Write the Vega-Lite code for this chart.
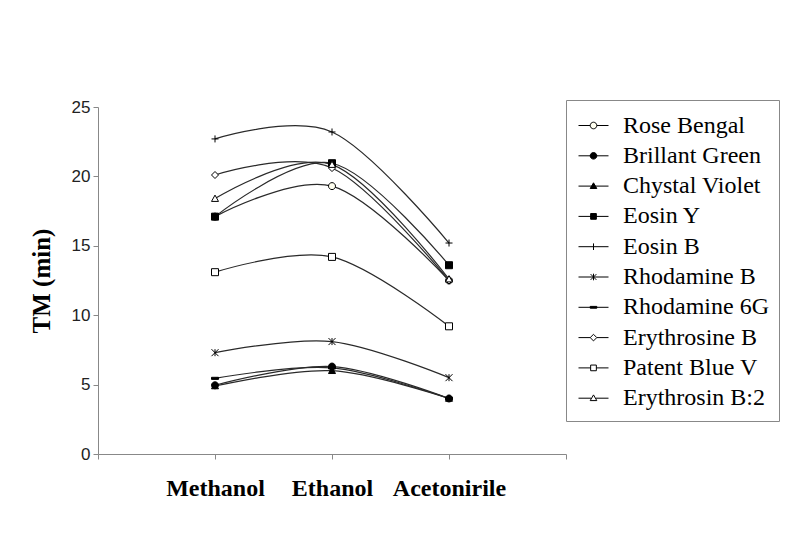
{
  "$schema": "https://vega.github.io/schema/vega-lite/v6.json",
  "width": 468,
  "height": 347,
  "autosize": {"type": "none"},
  "padding": {"left": 98, "top": 107, "right": 230, "bottom": 92},
  "background": "white",
  "config": {"view": {"stroke": null}, "font": "Liberation Serif"},
  "data": {
    "values": [
      {"name": "Rose Bengal", "solvent": "Methanol", "tm": 17.1},
      {"name": "Rose Bengal", "solvent": "Ethanol", "tm": 19.3},
      {"name": "Rose Bengal", "solvent": "Acetonirile", "tm": 12.5},
      {"name": "Brillant Green", "solvent": "Methanol", "tm": 4.95},
      {"name": "Brillant Green", "solvent": "Ethanol", "tm": 6.3},
      {"name": "Brillant Green", "solvent": "Acetonirile", "tm": 4.0},
      {"name": "Chystal Violet", "solvent": "Methanol", "tm": 4.9},
      {"name": "Chystal Violet", "solvent": "Ethanol", "tm": 6.0},
      {"name": "Chystal Violet", "solvent": "Acetonirile", "tm": 4.0},
      {"name": "Eosin Y", "solvent": "Methanol", "tm": 17.1},
      {"name": "Eosin Y", "solvent": "Ethanol", "tm": 20.95},
      {"name": "Eosin Y", "solvent": "Acetonirile", "tm": 13.6},
      {"name": "Eosin B", "solvent": "Methanol", "tm": 22.7},
      {"name": "Eosin B", "solvent": "Ethanol", "tm": 23.2},
      {"name": "Eosin B", "solvent": "Acetonirile", "tm": 15.2},
      {"name": "Rhodamine B", "solvent": "Methanol", "tm": 7.3},
      {"name": "Rhodamine B", "solvent": "Ethanol", "tm": 8.1},
      {"name": "Rhodamine B", "solvent": "Acetonirile", "tm": 5.5},
      {"name": "Rhodamine 6G", "solvent": "Methanol", "tm": 5.45},
      {"name": "Rhodamine 6G", "solvent": "Ethanol", "tm": 6.2},
      {"name": "Rhodamine 6G", "solvent": "Acetonirile", "tm": 4.0},
      {"name": "Erythrosine B", "solvent": "Methanol", "tm": 20.1},
      {"name": "Erythrosine B", "solvent": "Ethanol", "tm": 20.6},
      {"name": "Erythrosine B", "solvent": "Acetonirile", "tm": 12.5},
      {"name": "Patent Blue V", "solvent": "Methanol", "tm": 13.1},
      {"name": "Patent Blue V", "solvent": "Ethanol", "tm": 14.2},
      {"name": "Patent Blue V", "solvent": "Acetonirile", "tm": 9.2},
      {"name": "Erythrosin B:2", "solvent": "Methanol", "tm": 18.4},
      {"name": "Erythrosin B:2", "solvent": "Ethanol", "tm": 20.85},
      {"name": "Erythrosin B:2", "solvent": "Acetonirile", "tm": 12.6}
    ]
  },
  "encoding": {
    "x": {
      "field": "solvent",
      "type": "ordinal",
      "scale": {"type": "point", "domain": ["start", "Methanol", "Ethanol", "Acetonirile", "end"], "padding": 0},
      "axis": {
        "title": null,
        "labelExpr": "datum.value == 'start' || datum.value == 'end' ? '' : datum.label",
        "labelFont": "Liberation Serif",
        "labelFontSize": 24,
        "labelFontWeight": "bold",
        "labelColor": "black",
        "labelAngle": 0,
        "labelPadding": 17,
        "labelOverlap": false,
        "tickSize": 5,
        "tickColor": "#888",
        "domainColor": "#888",
        "grid": false
      }
    },
    "y": {
      "field": "tm",
      "type": "quantitative",
      "scale": {"domain": [0, 25], "nice": false},
      "axis": {
        "title": "TM (min)",
        "titleFont": "Liberation Serif",
        "titleFontSize": 25,
        "titleFontWeight": "bold",
        "titleColor": "black",
        "titlePadding": 17,
        "values": [0, 5, 10, 15, 20, 25],
        "labelFont": "Liberation Sans",
        "labelFontSize": 17,
        "labelColor": "#222",
        "labelPadding": 3,
        "tickSize": 5,
        "tickColor": "#888",
        "domainColor": "#888",
        "grid": false
      }
    }
  },
  "layer": [
    {
      "mark": {"type": "line", "interpolate": "cardinal", "color": "#2a2a2a", "strokeWidth": 1.2},
      "encoding": {"detail": {"field": "name"}}
    },
    {
      "mark": {"type": "point", "stroke": "black", "strokeWidth": 1, "size": 49, "opacity": 1},
      "encoding": {
        "shape": {
          "field": "name",
          "type": "nominal",
          "scale": {
            "domain": ["Rose Bengal", "Brillant Green", "Chystal Violet", "Eosin Y", "Eosin B", "Rhodamine B", "Rhodamine 6G", "Erythrosine B", "Patent Blue V", "Erythrosin B:2"],
            "range": [
              "M1,0A1,1,0,1,1,-1,0A1,1,0,1,1,1,0Z",
              "M1,0A1,1,0,1,1,-1,0A1,1,0,1,1,1,0Z",
              "M0,-1L1,0.8L-1,0.8Z",
              "M-1,-1L1,-1L1,1L-1,1Z",
              "M-1,0L1,0M0,-1L0,1",
              "M-1,-1L1,1M-1,1L1,-1M0,-1L0,1",
              "M-1,-0.3L1,-0.3L1,0.3L-1,0.3Z",
              "M0,-1L1,0L0,1L-1,0Z",
              "M-1,-1L1,-1L1,1L-1,1Z",
              "M0,-1L1,0.8L-1,0.8Z"
            ]
          },
          "legend": null
        },
        "fill": {
          "field": "name",
          "type": "nominal",
          "scale": {
            "domain": ["Rose Bengal", "Brillant Green", "Chystal Violet", "Eosin Y", "Eosin B", "Rhodamine B", "Rhodamine 6G", "Erythrosine B", "Patent Blue V", "Erythrosin B:2"],
            "range": ["#fffff0", "black", "black", "black", "transparent", "transparent", "black", "white", "white", "white"]
          },
          "legend": null
        }
      }
    },
    {
      "mark": {"type": "point", "stroke": "black", "strokeWidth": 1, "size": 900, "opacity": 0},
      "encoding": {
        "shape": {
          "field": "name",
          "type": "nominal",
          "scale": {
            "domain": ["Rose Bengal", "Brillant Green", "Chystal Violet", "Eosin Y", "Eosin B", "Rhodamine B", "Rhodamine 6G", "Erythrosine B", "Patent Blue V", "Erythrosin B:2"],
            "range": [
              "M-1,0L-0.22,0M0.22,0L1,0M0.22,0A0.22,0.22,0,1,1,-0.22,0A0.22,0.22,0,1,1,0.22,0Z",
              "M-1,0L1,0M0.22,0A0.22,0.22,0,1,1,-0.22,0A0.22,0.22,0,1,1,0.22,0Z",
              "M-1,0L1,0M0,-0.22L0.22,0.16L-0.22,0.16Z",
              "M-1,0L1,0M-0.19,-0.19L0.19,-0.19L0.19,0.19L-0.19,0.19Z",
              "M-1,0L1,0M0,-0.22L0,0.22",
              "M-1,0L1,0M-0.19,-0.19L0.19,0.19M-0.19,0.19L0.19,-0.19M0,-0.22L0,0.22",
              "M-1,0L1,0M-0.22,-0.06L0.22,-0.06L0.22,0.06L-0.22,0.06Z",
              "M-1,0L-0.22,0M0.22,0L1,0M0,-0.22L0.22,0L0,0.22L-0.22,0Z",
              "M-1,0L-0.19,0M0.19,0L1,0M-0.19,-0.19L0.19,-0.19L0.19,0.19L-0.19,0.19Z",
              "M-1,0L-0.16,0M0.16,0L1,0M0,-0.22L0.22,0.16L-0.22,0.16Z"
            ]
          },
          "legend": {
            "title": null,
            "orient": "none",
            "legendX": 468,
            "legendY": -7,
            "padding": 10,
            "strokeColor": "#888",
            "fillColor": "white",
            "symbolSize": 900,
            "symbolStrokeColor": "black",
            "symbolStrokeWidth": 1,
            "symbolOpacity": 1,
            "symbolOffset": 2,
            "labelFont": "Liberation Serif",
            "labelFontSize": 24,
            "labelColor": "black",
            "labelOffset": 14,
            "labelLimit": 300,
            "rowPadding": 2.3,
            "encode": {"symbols": {"update": {"stroke": {"value": "black"}, "strokeWidth": {"value": 1}, "opacity": {"value": 1}, "strokeOpacity": {"value": 1}}}}
          }
        },
        "fill": {
          "field": "name",
          "type": "nominal",
          "scale": {
            "domain": ["Rose Bengal", "Brillant Green", "Chystal Violet", "Eosin Y", "Eosin B", "Rhodamine B", "Rhodamine 6G", "Erythrosine B", "Patent Blue V", "Erythrosin B:2"],
            "range": ["#fffff0", "black", "black", "black", "transparent", "transparent", "black", "white", "white", "white"]
          },
          "legend": {
            "title": null,
            "orient": "none",
            "legendX": 468,
            "legendY": -7,
            "padding": 10,
            "strokeColor": "#888",
            "fillColor": "white",
            "symbolSize": 900,
            "symbolStrokeColor": "black",
            "symbolStrokeWidth": 1,
            "symbolOpacity": 1,
            "symbolOffset": 2,
            "labelFont": "Liberation Serif",
            "labelFontSize": 24,
            "labelColor": "black",
            "labelOffset": 14,
            "labelLimit": 300,
            "rowPadding": 2.3,
            "encode": {"symbols": {"update": {"stroke": {"value": "black"}, "strokeWidth": {"value": 1}, "opacity": {"value": 1}, "strokeOpacity": {"value": 1}}}}
          }
        }
      }
    }
  ],
  "resolve": {"scale": {"shape": "independent", "fill": "independent"}}
}
